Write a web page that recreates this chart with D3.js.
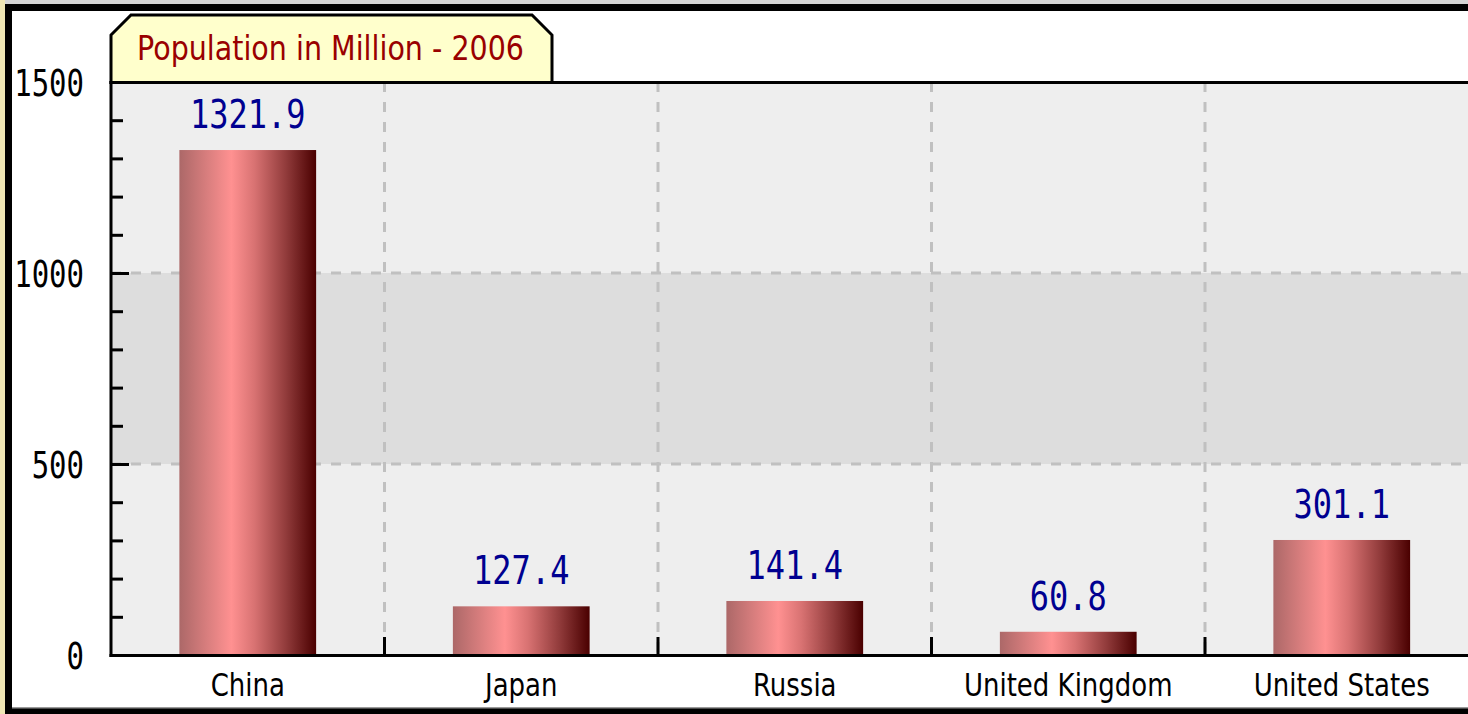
<!DOCTYPE html>
<html>
<head>
<meta charset="utf-8">
<script src="https://cdn.jsdelivr.net/npm/d3@7/dist/d3.min.js"></script>
<style>
  body { margin: 0; background: #fff; }
  svg { display: block; }
</style>
</head>
<body>
<svg id="chart" width="1468" height="714"></svg>
<script>
// data
const categories = ['China', 'Japan', 'Russia', 'United Kingdom', 'United States'];
const population = [1321.9, 127.4, 141.4, 60.8, 301.1];
const yMajorTicks = [0, 500, 1000, 1500];
const yMinorTicks = [100, 200, 300, 400, 600, 700, 800, 900, 1100, 1200, 1300, 1400];
const bandEdges = [0, 500, 1000, 1500];
const chartTitle = 'Population in Million - 2006';

const W = 1468, H = 714;
const left = 111, step = 273.5;

const svg = d3.select('#chart');

const x = d3.scaleBand()
  .domain(categories)
  .range([left, left + step * categories.length])
  .paddingInner(0.5)
  .paddingOuter(0.25);

const y = d3.scaleLinear().domain([0, 1500]).range([655, 82]);

// outer frame
svg.append('rect').attr('width', W).attr('height', H).attr('fill', '#fff');
svg.append('rect').attr('x', 0).attr('y', 0).attr('width', 5).attr('height', H).attr('fill', '#efe6b4');
svg.append('rect').attr('x', 5).attr('y', 0).attr('width', W).attr('height', 4).attr('fill', '#d4d4d4');
svg.append('rect').attr('x', 5).attr('y', 4).attr('width', W).attr('height', H - 4).attr('fill', '#000');
svg.append('rect').attr('x', 12).attr('y', 11).attr('width', W).attr('height', 697).attr('fill', '#fff');
svg.append('rect').attr('x', 12).attr('y', 707).attr('width', W).attr('height', 1.5).attr('fill', '#9a9a9a');

// plot background bands
const bandColors = ['#eeeeee', '#dddddd', '#eeeeee'];
for (let i = 0; i < bandEdges.length - 1; i++) {
  svg.append('rect')
    .attr('x', left)
    .attr('y', y(bandEdges[i + 1]))
    .attr('width', W - left)
    .attr('height', y(bandEdges[i]) - y(bandEdges[i + 1]))
    .attr('fill', bandColors[i]);
}

// dashed grid
svg.append('g').selectAll('line')
  .data([500, 1000])
  .join('line')
  .attr('x1', left).attr('x2', W)
  .attr('y1', d => y(d)).attr('y2', d => y(d))
  .attr('stroke', '#c0c0c0')
  .attr('stroke-width', 3)
  .attr('stroke-dasharray', '10,10');

const boundaries = categories.slice(0, -1).map(c => x(c) + x.bandwidth() + x.step() * 0.25);
svg.append('g').selectAll('line')
  .data(boundaries)
  .join('line')
  .attr('x1', d => d).attr('x2', d => d)
  .attr('y1', y(1500)).attr('y2', y(0))
  .attr('stroke', '#c0c0c0')
  .attr('stroke-width', 3)
  .attr('stroke-dasharray', '10,10');

// bar gradient
const grad = svg.append('defs').append('linearGradient')
  .attr('id', 'barGrad')
  .attr('x1', '0%').attr('x2', '100%').attr('y1', '0%').attr('y2', '0%');
[[0, '#ac6868'], [0.38, '#ff9191'], [0.55, '#d87272'], [0.78, '#913b3b'], [1, '#4a0000']]
  .forEach(s => grad.append('stop').attr('offset', s[0]).attr('stop-color', s[1]));

// bars
svg.append('g').selectAll('rect')
  .data(categories)
  .join('rect')
  .attr('x', d => x(d))
  .attr('width', x.bandwidth())
  .attr('y', (d, i) => y(population[i]))
  .attr('height', (d, i) => y(0) - y(population[i]))
  .attr('fill', 'url(#barGrad)');

// value labels
svg.append('g').selectAll('text')
  .data(categories)
  .join('text')
  .attr('transform', (d, i) => `translate(${x(d) + x.bandwidth() / 2},${y(population[i]) - 22}) scale(1,1.2)`)
  .attr('text-anchor', 'middle')
  .attr('font-family', 'DejaVu Sans Mono')
  .attr('font-size', 32)
  .attr('fill', '#000090')
  .text((d, i) => population[i].toFixed(1));

// y axis ticks (inward)
const yAxis = svg.append('g')
  .attr('transform', `translate(${left},0)`)
  .call(d3.axisLeft(y).tickValues(yMajorTicks).tickFormat(d3.format('d'))
    .tickSizeInner(-18).tickSizeOuter(0).tickPadding(27));
yAxis.select('.domain').remove();
yAxis.selectAll('line').attr('stroke', '#000').attr('stroke-width', 3);
yAxis.selectAll('text')
  .attr('font-family', 'DejaVu Sans Mono')
  .attr('font-size', 29)
  .attr('fill', '#000')
  .attr('dy', '0.36em')
  .attr('transform', 'scale(1,1.3)');

const yMinor = svg.append('g')
  .attr('transform', `translate(${left},0)`)
  .call(d3.axisLeft(y).tickValues(yMinorTicks).tickSizeInner(-12).tickSizeOuter(0).tickFormat(''));
yMinor.select('.domain').remove();
yMinor.selectAll('line').attr('stroke', '#000').attr('stroke-width', 3);

// x boundary ticks (inward, up)
svg.append('g').selectAll('line')
  .data(boundaries)
  .join('line')
  .attr('x1', d => d).attr('x2', d => d)
  .attr('y1', y(0) - 18).attr('y2', y(0))
  .attr('stroke', '#000')
  .attr('stroke-width', 3);

// axis lines
svg.append('line').attr('x1', left).attr('x2', left).attr('y1', 81).attr('y2', 657)
  .attr('stroke', '#000').attr('stroke-width', 3);
svg.append('line').attr('x1', left - 1.5).attr('x2', W).attr('y1', 655.5).attr('y2', 655.5)
  .attr('stroke', '#000').attr('stroke-width', 3);
svg.append('line').attr('x1', left - 1.5).attr('x2', W).attr('y1', 82.5).attr('y2', 82.5)
  .attr('stroke', '#000').attr('stroke-width', 3);

// x labels
svg.append('g').selectAll('text')
  .data(categories)
  .join('text')
  .attr('transform', d => `translate(${x(d) + x.bandwidth() / 2},696) scale(1,1.2)`)
  .attr('text-anchor', 'middle')
  .attr('font-family', 'DejaVu Sans')
  .attr('font-size', 26)
  .attr('fill', '#000')
  .text(d => d);

// title tab
svg.append('polygon')
  .attr('points', [[left, 35], [131, 15], [532, 15], [552, 35], [552, 82.5], [left, 82.5]].join(' '))
  .attr('fill', '#ffffcc')
  .attr('stroke', '#000')
  .attr('stroke-width', 3);

svg.append('text')
  .attr('transform', 'translate(137,60) scale(1,1.27)')
  .attr('font-family', 'DejaVu Sans')
  .attr('font-size', 27)
  .attr('textLength', 387)
  .attr('lengthAdjust', 'spacingAndGlyphs')
  .attr('fill', '#990000')
  .text(chartTitle);
</script>
</body>
</html>
